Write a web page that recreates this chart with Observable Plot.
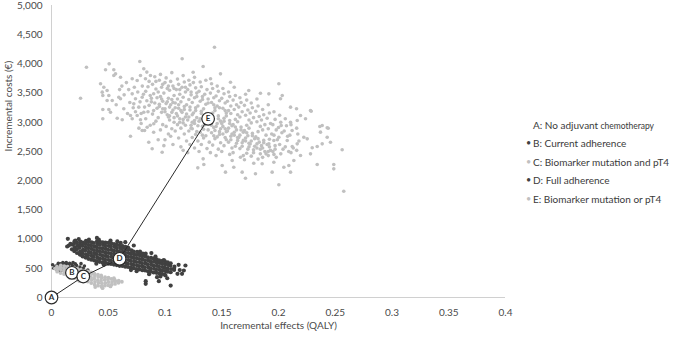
<!DOCTYPE html>
<html>
<head>
<meta charset="utf-8">
<script src="https://cdn.jsdelivr.net/npm/d3@7"></script>
<script src="https://cdn.jsdelivr.net/npm/@observablehq/plot@0.6"></script>
<style>
  html, body { margin: 0; padding: 0; background: #fff; }
  #wrap { position: relative; width: 676px; height: 338px; font-family: Lato, "Open Sans", sans-serif; color: #3a3a3a; }
  .lg { position: absolute; left: 533px; font-size: 10px; line-height: 12px; white-space: nowrap; }
  .lg .b { position: absolute; left: -7px; font-size: 9px; }
  .lg small { font-size: 8.5px; }
</style>
</head>
<body>
<div id="wrap"></div>
<script>
// ---- Data ----
const xTicks = [0, 0.05, 0.1, 0.15, 0.2, 0.25, 0.3, 0.35, 0.4];
const yTicks = [0, 500, 1000, 1500, 2000, 2500, 3000, 3500, 4000, 4500, 5000];

const strategies = ["A", "B", "C", "D", "E"];
const meanEffects = [0, 0.018, 0.028, 0.060, 0.138];
const meanCosts = [0, 423, 360, 663, 3060];
const frontier = ["A", "C", "D", "E"];

const legendLabels = [
  "A: No adjuvant", "B: Current adherence", "C: Biomarker mutation and pT4",
  "D: Full adherence", "E: Biomarker mutation or pT4"
];

// B: Current adherence (dark)
const cloudB = [[0.004,540],[0.006,560],[0.008,575],[0.010,555],[0.012,580],[0.014,565],[0.016,585],[0.018,560],
[0.007,510],[0.011,525],[0.015,540],[0.019,530],[0.022,550],[0.025,520],[0.028,500],[0.003,520],[0.009,490],
[0.013,470],[0.017,480],[0.021,470],[0.024,450],[0.027,440],[0.030,430],[0.016,430],[0.020,410],[0.023,400],
[0.005,470],[0.019,600],[0.010,600],[0.026,580],[0.029,540],[0.032,470],[0.012,440],[0.001,560],[0.014,510],
[0.008,450],[0.002,500],[0.006,585],[0.013,600],[0.021,575]];

// C: Biomarker mutation and pT4 (light)
const cloudC = [[0.005,442],[0.0055,488],[0.0048,527],
[0.008,418],[0.0084,472],[0.0078,516],[0.0082,549],
[0.011,402],[0.0114,447],[0.0108,503],[0.0112,538],
[0.014,378],[0.0143,433],[0.0137,478],[0.0142,528],
[0.017,362],[0.0174,408],[0.0168,463],[0.0172,507],
[0.020,332],[0.0203,381],[0.0197,428],[0.0202,477],[0.0199,508],
[0.023,308],[0.0234,362],[0.0228,407],[0.0232,462],[0.0229,488],
[0.026,302],[0.0263,348],[0.0257,402],[0.0262,447],[0.0258,476],
[0.029,288],[0.0294,342],[0.0288,387],[0.0292,442],[0.0289,458],
[0.032,272],[0.0323,318],[0.0317,372],[0.0322,418],[0.0318,448],
[0.035,248],[0.0354,302],[0.0348,347],[0.0352,402],[0.0349,428],
[0.038,222],[0.0383,268],[0.0377,322],[0.0382,368],[0.0378,408],
[0.041,202],[0.0414,252],[0.0408,298],[0.0412,352],[0.0409,392],
[0.044,188],[0.0443,242],[0.0437,288],[0.0442,338],[0.0438,378],
[0.047,202],[0.0474,248],[0.0468,302],[0.0472,348],
[0.050,208],[0.0503,262],[0.0497,308],[0.0502,342],
[0.053,222],[0.0534,268],[0.0528,318],
[0.056,232],[0.0563,278],[0.0557,302],
[0.059,252],[0.0592,288],
[0.062,270],[0.045,160],[0.052,190],[0.003,495],[0.0385,180],[0.055,330],[0.0245,282],[0.016,340]];

// D: Full adherence (dark)
const cloudD = [[0.018,825],[0.0185,905],
[0.020,795],[0.0205,855],[0.0198,918],[0.0203,962],
[0.0225,762],[0.0222,826],[0.0228,884],[0.0224,941],
[0.025,735],[0.0253,792],[0.0247,853],[0.0251,912],[0.0255,958],
[0.0275,702],[0.0272,763],[0.0278,818],[0.0274,884],[0.0277,938],
[0.030,684],[0.0303,741],[0.0297,803],[0.0302,862],[0.0299,918],[0.0304,968],
[0.0325,663],[0.0322,724],[0.0328,781],[0.0324,843],[0.0327,897],[0.0323,952],
[0.035,648],[0.0353,712],[0.0347,768],[0.0352,832],[0.0348,893],[0.0354,944],
[0.0375,636],[0.0372,694],[0.0378,757],[0.0374,812],[0.0377,876],[0.0373,933],
[0.040,622],[0.0403,682],[0.0397,742],[0.0402,798],[0.0399,862],[0.0404,918],[0.0401,963],
[0.0425,611],[0.0422,668],[0.0428,733],[0.0424,792],[0.0427,848],[0.0423,908],[0.0426,952],
[0.045,598],[0.0453,662],[0.0447,718],[0.0452,783],[0.0448,842],[0.0454,902],[0.0451,946],
[0.0475,592],[0.0472,648],[0.0478,712],[0.0474,768],[0.0477,832],[0.0473,888],[0.0476,941],
[0.050,578],[0.0503,642],[0.0497,698],[0.0502,762],[0.0499,818],[0.0504,882],[0.0501,934],
[0.0525,574],[0.0522,633],[0.0528,697],[0.0524,753],[0.0527,817],[0.0523,872],[0.0526,926],
[0.055,563],[0.0553,627],[0.0547,683],[0.0552,747],[0.0548,803],[0.0554,867],[0.0551,913],
[0.0575,556],[0.0572,612],[0.0578,677],[0.0574,733],[0.0577,797],[0.0573,852],[0.0576,906],
[0.060,543],[0.0603,607],[0.0597,663],[0.0602,727],[0.0599,783],[0.0604,847],[0.0601,893],
[0.0625,541],[0.0622,598],[0.0628,662],[0.0624,718],[0.0627,782],[0.0623,838],[0.0626,882],
[0.065,528],[0.0653,592],[0.0647,648],[0.0652,712],[0.0648,768],[0.0654,832],[0.0651,868],
[0.0675,522],[0.0672,578],[0.0678,642],[0.0674,698],[0.0677,762],[0.0673,818],[0.0676,852],
[0.070,508],[0.0703,572],[0.0697,628],[0.0702,692],[0.0699,748],[0.0704,808],
[0.0725,502],[0.0722,558],[0.0728,622],[0.0724,678],[0.0727,742],[0.0723,788],
[0.075,488],[0.0753,552],[0.0747,608],[0.0752,672],[0.0748,728],[0.0754,782],
[0.0775,482],[0.0772,538],[0.0778,602],[0.0774,658],[0.0777,722],[0.0773,758],
[0.080,468],[0.0803,532],[0.0797,588],[0.0802,652],[0.0799,708],[0.0804,752],
[0.0825,462],[0.0822,518],[0.0828,582],[0.0824,638],[0.0827,702],
[0.085,448],[0.0853,512],[0.0847,568],[0.0852,632],[0.0848,688],
[0.0875,442],[0.0872,498],[0.0878,562],[0.0874,618],[0.0877,678],
[0.090,428],[0.0903,492],[0.0897,548],[0.0902,612],[0.0899,668],
[0.0925,422],[0.0922,478],[0.0928,542],[0.0924,598],[0.0927,652],
[0.095,408],[0.0953,472],[0.0947,528],[0.0952,592],[0.0948,638],
[0.0975,402],[0.0972,458],[0.0978,522],[0.0974,578],[0.0977,628],
[0.100,388],[0.1003,452],[0.0997,508],[0.1002,568],[0.0999,618],
[0.1025,442],[0.1022,498],[0.1028,558],[0.1024,602],
[0.105,432],[0.1053,488],[0.1047,548],
[0.108,472],[0.1083,528],
[0.0144,1005],[0.0153,890],[0.0138,873],[0.0167,919],[0.021,976],[0.027,719],[0.040,1020],[0.0417,990],
[0.052,975],[0.061,935],[0.065,947],[0.0725,890],[0.068,830],[0.078,785],[0.083,750],[0.0916,700],[0.099,640],
[0.105,585],[0.118,548],[0.1166,462],[0.115,405],[0.105,205],[0.083,234],[0.093,348],[0.0975,462],[0.108,491],
[0.111,405],[0.1004,377],[0.083,280],[0.0946,280],[0.112,560],[0.088,760],[0.058,960],[0.033,990],[0.024,1000],
[0.0395,580],[0.046,560],[0.075,450],[0.086,400],[0.096,360],[0.113,470],[0.102,330],[0.070,470]];

// E: Biomarker mutation or pT4 (light)
const cloudE = [[0.0308,3943],[0.0508,4001],[0.0476,3899],[0.0549,3899],[0.0564,3830],[0.0549,3801],[0.0608,3772],
[0.0432,3659],[0.0461,3601],[0.049,3544],[0.0447,3516],[0.0452,3459],[0.0505,3459],[0.049,3373],[0.0535,3373],
[0.0593,3430],[0.0608,3402],[0.0256,3413],[0.0452,3219],[0.0505,3219],[0.052,3173],[0.0637,3231],[0.0452,3060],
[0.0579,3070],[0.0623,3043],[0.0696,3116],[0.0711,3060],[0.0755,3116],[0.0784,3043],[0.0696,2762],[0.0778,4041],
[0.0813,3916],[0.0784,3801],[0.0711,3745],[0.0755,3716],[0.0828,3745],[0.0872,3801],[0.1151,4087],[0.0887,2546],
[0.0975,2488],[0.0857,2659],[0.0799,2860],[0.0843,2916],[0.0901,2974],[0.0711,3487],[0.074,3402],[0.0799,3430],
[0.0725,3316],[0.0769,3259],[0.0813,3173],
[0.1436,4286],[0.1336,3955],[0.1489,3830],[0.1248,3858],[0.1401,3745],[0.1577,3687],[0.2003,3659],[0.2033,3459],
[0.1738,3544],[0.1841,3498],[0.1915,3487],[0.2018,3402],[0.2106,3259],[0.2159,3231],[0.2288,3190],[0.2194,3116],
[0.2238,3060],[0.2165,3031],[0.2106,3002],[0.2024,2945],[0.2364,2928],[0.2429,2906],[0.237,2831],[0.2429,2745],
[0.2458,2659],[0.2385,2631],[0.2341,2586],[0.2297,2563],[0.2561,2529],[0.2253,2717],[0.2223,2745],[0.2165,2631],
[0.2121,2586],[0.2077,2688],[0.2003,2745],[0.1959,2688],[0.1915,2631],[0.2194,2432],[0.2135,2346],[0.2091,2260],
[0.2047,2231],[0.1959,2317],[0.1944,2146],[0.2106,2146],[0.2003,1930],[0.1709,2043],[0.1797,2118],[0.1856,2289],
[0.1782,2300],[0.168,2146],[0.1606,2231],[0.1533,2146],[0.1504,2260],[0.1592,2346],[0.1665,2402],[0.1289,2220],
[0.1342,2277],[0.1336,2374],[0.2341,2277],[0.2487,2277],[0.2487,2203],[0.2575,1820],[0.2282,2460],[0.2385,2945],
[0.2438,2899],[0.2282,3202],
[0.066,3680],[0.068,3560],[0.064,3470],[0.069,3340],[0.067,3150],[0.073,3600],[0.076,3520],[0.072,3250],[0.078,3350],
[0.074,3180],[0.079,2980],[0.077,2900],[0.080,3620],[0.081,3480],[0.082,3260],[0.079,3150],[0.082,2860],[0.060,3560],
[0.057,3300],[0.062,3620],
[0.084,3860],[0.086,3700],[0.085,3610],[0.083,3530],[0.087,3460],[0.084,3370],[0.086,3290],[0.085,3180],[0.083,3060],[0.087,2950],
[0.091,3780],[0.089,3650],[0.092,3570],[0.090,3490],[0.088,3410],[0.091,3330],[0.093,3240],[0.089,3140],[0.092,3020],[0.090,2830],[0.094,2700],
[0.096,3820],[0.095,3720],[0.097,3600],[0.094,3520],[0.096,3440],[0.098,3360],[0.095,3270],[0.097,3170],[0.094,3080],[0.098,2960],[0.096,2870],[0.099,2600],
[0.101,3760],[0.100,3680],[0.102,3580],[0.099,3500],[0.103,3410],[0.101,3320],[0.100,3230],[0.102,3130],[0.104,3040],[0.101,2930],[0.103,2800],[0.100,2700],
[0.106,3850],[0.105,3700],[0.107,3620],[0.104,3550],[0.108,3460],[0.106,3390],[0.105,3300],[0.107,3210],[0.104,3110],[0.108,3000],[0.106,2890],[0.105,2760],[0.107,2620],
[0.111,3740],[0.112,3650],[0.110,3560],[0.113,3480],[0.111,3400],[0.109,3330],[0.112,3240],[0.110,3150],[0.113,3060],[0.111,2960],[0.109,2850],[0.112,2730],[0.114,2580],
[0.116,3800],[0.117,3690],[0.115,3600],[0.118,3520],[0.116,3430],[0.114,3350],[0.117,3270],[0.115,3170],[0.118,3090],[0.116,2990],[0.114,2900],[0.117,2800],[0.119,2680],[0.116,2520],
[0.121,3720],[0.122,3640],[0.120,3560],[0.123,3470],[0.121,3390],[0.119,3300],[0.122,3210],[0.124,3130],[0.120,3040],[0.123,2950],[0.121,2850],[0.124,2740],[0.122,2620],[0.120,2480],
[0.126,3770],[0.125,3680],[0.127,3590],[0.128,3500],[0.126,3420],[0.124,3340],[0.127,3250],[0.125,3160],[0.128,3080],[0.126,2980],[0.124,2890],[0.127,2790],[0.129,2680],[0.126,2560],
[0.131,3690],[0.132,3610],[0.130,3530],[0.133,3440],[0.131,3360],[0.129,3280],[0.132,3190],[0.134,3110],[0.130,3020],[0.133,2930],[0.131,2830],[0.134,2730],[0.132,2620],[0.130,2500],
[0.136,3720],[0.137,3560],[0.135,3480],[0.138,3400],[0.136,3310],[0.134,3230],[0.137,3150],[0.139,3050],[0.135,2960],[0.138,2870],[0.136,2770],[0.139,2660],[0.137,2550],
[0.141,3660],[0.142,3580],[0.140,3500],[0.143,3420],[0.141,3340],[0.144,3250],[0.142,3160],[0.140,3000],[0.143,2910],[0.141,2820],[0.144,2720],[0.142,2610],[0.140,2480],
[0.146,3620],[0.147,3530],[0.145,3450],[0.148,3370],[0.146,3280],[0.144,3200],[0.147,3110],[0.149,3020],[0.145,2930],[0.148,2840],[0.146,2750],[0.149,2650],[0.147,2540],[0.145,2430],
[0.151,3580],[0.152,3490],[0.150,3410],[0.153,3330],[0.151,3240],[0.154,3160],[0.152,3070],[0.150,2980],[0.153,2890],[0.151,2800],[0.154,2700],[0.152,2600],[0.150,2500],
[0.156,3520],[0.157,3440],[0.155,3360],[0.158,3280],[0.156,3200],[0.154,3110],[0.157,3030],[0.159,2940],[0.155,2850],[0.158,2760],[0.156,2660],[0.159,2560],[0.157,2450],
[0.161,3600],[0.162,3460],[0.160,3380],[0.163,3300],[0.161,3220],[0.164,3130],[0.162,3050],[0.160,2960],[0.163,2870],[0.161,2780],[0.164,2690],[0.162,2590],[0.160,2480],
[0.166,3420],[0.167,3340],[0.165,3260],[0.168,3180],[0.166,3090],[0.164,3010],[0.167,2920],[0.169,2830],[0.165,2740],[0.168,2650],[0.166,2550],[0.169,2430],
[0.171,3480],[0.172,3380],[0.170,3290],[0.173,3210],[0.171,3120],[0.174,3040],[0.172,2950],[0.170,2860],[0.173,2770],[0.171,2680],[0.174,2580],[0.172,2470],[0.170,2360],
[0.176,3330],[0.177,3250],[0.175,3160],[0.178,3080],[0.176,2990],[0.174,2900],[0.177,2810],[0.179,2720],[0.175,2630],[0.178,2530],[0.176,2420],
[0.181,3400],[0.182,3280],[0.180,3190],[0.183,3100],[0.181,3010],[0.184,2930],[0.182,2840],[0.180,2750],[0.183,2660],[0.181,2560],[0.184,2460],[0.182,2370],
[0.186,3220],[0.187,3130],[0.185,3040],[0.188,2960],[0.186,2870],[0.189,2780],[0.187,2690],[0.185,2600],[0.188,2500],[0.186,2400],
[0.191,3300],[0.192,3160],[0.190,3070],[0.193,2980],[0.191,2890],[0.194,2800],[0.192,2710],[0.190,2620],[0.193,2520],[0.191,2430],
[0.196,3180],[0.197,3050],[0.195,2960],[0.198,2870],[0.196,2780],[0.199,2700],[0.197,2600],[0.195,2500],[0.198,2400],
[0.201,3120],[0.202,3000],[0.200,2910],[0.203,2820],[0.201,2620],[0.204,2540],[0.202,2460],
[0.206,3060],[0.207,2940],[0.205,2850],[0.208,2760],[0.206,2580],[0.209,2500],
[0.211,2960],[0.212,2860],[0.210,2780],[0.213,2560],[0.211,2480],
[0.216,2900],[0.217,2800],[0.218,2680],[0.216,2520],
[0.088,3350],[0.093,3420],[0.090,3200],[0.095,3310],[0.098,3230],[0.097,3400],[0.102,3350],[0.100,3180],[0.104,3260],
[0.103,3090],[0.107,3340],[0.106,3170],[0.109,3250],[0.108,3080],[0.112,3300],[0.111,3110],[0.114,3200],[0.113,3000],
[0.117,3220],[0.116,3050],[0.119,3140],[0.118,2950],[0.122,3260],[0.121,3090],[0.124,3000],[0.123,2900],[0.127,3200],
[0.126,3030],[0.129,2940],[0.128,2840],[0.132,3150],[0.131,3060],[0.134,2880],[0.133,2780],[0.142,3100],[0.141,2950],
[0.144,2860],[0.143,2770],[0.147,3060],[0.146,2980],[0.149,2890],[0.148,2790],[0.152,3020],[0.151,2930],[0.154,2840],
[0.153,2740],[0.157,2980],[0.156,2900],[0.159,2800],[0.158,2700],[0.162,2920],[0.161,2830],[0.164,2740],[0.163,2640],
[0.167,2870],[0.166,2780],[0.169,2690],[0.168,2590],[0.172,2820],[0.171,2730],[0.174,2640],[0.173,2540],[0.177,2770],
[0.176,2680],[0.179,2590],[0.178,2480],[0.182,2720],[0.181,2630],[0.184,2540],[0.187,2650],[0.186,2560],[0.189,2460],
[0.192,2580],[0.191,2500],[0.197,2540],[0.196,2450],
[0.092,3700],[0.098,3650],[0.103,3620],[0.108,3580],[0.113,3560],[0.118,3600],[0.123,3520],[0.128,3440],[0.133,3390],
[0.138,3330],[0.143,3300],[0.148,3250],[0.153,3200],[0.158,3150]];

// ---- Build ----
const toPts = arr => arr.map(([x, y]) => ({x, y}));
const markers = strategies.map((s, i) => ({s, x: meanEffects[i], y: meanCosts[i]}));
const frontierPts = frontier.map(s => markers.find(m => m.s === s));

const LIGHT = "#c0c0c0", DARK = "#404040", AXIS = "#d0d0d0", TXT = "#4a4a4a";
const FONT = "Lato, 'Open Sans', sans-serif";

const chart = Plot.plot({
  width: 676, height: 338,
  marginLeft: 51, marginRight: 171, marginTop: 5, marginBottom: 41,
  style: {fontFamily: FONT, fontSize: "10px", color: TXT, background: "#fff", overflow: "visible"},
  x: {domain: [0, 0.4]},
  y: {domain: [0, 5000]},
  marks: [
    Plot.ruleX([0], {y1: 0, y2: 5000, stroke: AXIS}),
    Plot.ruleY([0], {x1: 0, x2: 0.4, stroke: AXIS}),
    Plot.axisX({ticks: xTicks, tickSize: 0, tickPadding: 11, tickFormat: d => String(d), label: null, fill: TXT, fontSize: 10}),
    Plot.axisY({ticks: yTicks, tickSize: 0, tickPadding: 9, tickFormat: d3.format(","), label: null, fill: TXT, fontSize: 10}),
    Plot.text(["Incremental effects (QALY)"], {frameAnchor: "bottom", dy: 31, fill: TXT, fontSize: 10}),
    Plot.text(["Incremental costs (€)"], {frameAnchor: "left", dx: -43, rotate: -90, fill: TXT, fontSize: 10}),
    Plot.dot(toPts(cloudB), {x: "x", y: "y", r: 1.8, fill: DARK}),
    Plot.dot(toPts(cloudC), {x: "x", y: "y", r: 1.9, fill: LIGHT}),
    Plot.dot(toPts(cloudD), {x: "x", y: "y", r: 2.1, fill: DARK}),
    Plot.dot(toPts(cloudE), {x: "x", y: "y", r: 1.8, fill: LIGHT}),
    Plot.line(frontierPts, {x: "x", y: "y", stroke: "#2a2a2a", strokeWidth: 1}),
    Plot.dot(markers, {x: "x", y: "y", r: 6.3, fill: "white", stroke: "#2a2a2a", strokeWidth: 1.2}),
    Plot.text(markers, {x: "x", y: "y", text: "s", fontSize: 8, fontWeight: "bold", fill: "#2a2a2a"})
  ]
});

const wrap = document.getElementById("wrap");
wrap.appendChild(chart);

// Legend (HTML overlay)
const legendColors = [null, DARK, LIGHT, DARK, LIGHT];
const legendCenters = [125, 143, 161.5, 180, 199];
legendLabels.forEach((lab, i) => {
  const div = document.createElement("div");
  div.className = "lg";
  div.style.top = (legendCenters[i] - 6) + "px";
  if (legendColors[i]) {
    const b = document.createElement("span");
    b.className = "b";
    b.style.color = legendColors[i];
    b.textContent = "•";
    div.appendChild(b);
  }
  div.appendChild(document.createTextNode(lab));
  if (i === 0) {
    const sm = document.createElement("small");
    sm.textContent = " chemotherapy";
    div.appendChild(sm);
  }
  wrap.appendChild(div);
});
</script>
</body>
</html>
